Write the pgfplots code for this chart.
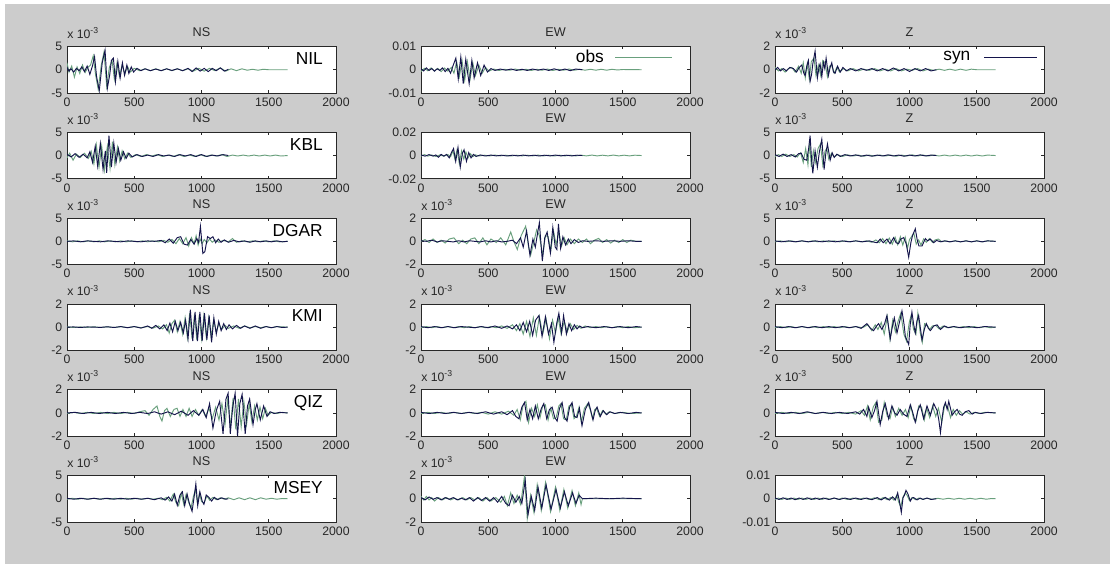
\documentclass[border=0pt]{standalone}
\usepackage{fontspec}
\setmainfont{Liberation Sans}
\usepackage{pgfplots}
\pgfplotsset{compat=1.18}
\definecolor{bg}{RGB}{204,204,204}
\definecolor{obsc}{RGB}{105,160,125}
\definecolor{sync}{RGB}{20,20,75}
\definecolor{axc}{RGB}{40,40,40}
\pgfplotsset{
 panel/.style={scale only axis, width=201.75pt, height=34.875pt, anchor=south west,
   xmin=0, xmax=2000, xtick={0,500,1000,1500,2000}, xticklabels={0,500,1000,1500,2000},
   axis background/.style={fill=white},
   axis line style={axc, line width=0.5pt},
   major tick style={axc, line width=0.5pt}, major tick length=2.2pt, tick align=inside,
   tick label style={font=\fontsize{9.2}{10}\selectfont, text=axc},
   title style={font=\fontsize{9.5}{10}\selectfont, text=axc, at={(0.5,1)}, anchor=base, yshift=1.2pt, inner sep=0pt},
   /pgf/number format/assume math mode=true},
 yA/.style={ymin=-5,ymax=5,ytick={-5,0,5},yticklabels={-5,0,5}},
 yB/.style={ymin=-2,ymax=2,ytick={-2,0,2},yticklabels={-2,0,2}},
 yC/.style={ymin=-10,ymax=10,ytick={-10,0,10},yticklabels={-0.01,0,0.01}},
 yD/.style={ymin=-20,ymax=20,ytick={-20,0,20},yticklabels={-0.02,0,0.02}},
 m3/.style={extra description/.append code={\node[anchor=base west, inner sep=0pt, font=\fontsize{9.2}{10}\selectfont, text=axc, yshift=6pt] at (0,1) {x 10\raisebox{3.6pt}{\fontsize{6.5}{7}\selectfont -3}};}},
 st/.style={extra description/.append code={\node[anchor=base east, inner sep=0pt, font=\fontsize{13}{13}\selectfont, text=black, xshift=-9.75pt, yshift=-13.5pt] at (1,1) {#1};}},
 obsl/.style={obsc, line width=0.7pt},
 synl/.style={sync, line width=0.7pt},
}
\begin{document}
\begin{tikzpicture}
\useasboundingbox (0,0) rectangle (832.5pt,423pt);
\fill[white] (0,0) rectangle (832.5pt,423pt);
\fill[bg] (3.75pt,0) rectangle (832.5pt,420pt);
% ===================== Row 1 =====================
\begin{axis}[panel, yA, m3, st=NIL, title={NS}, at={(50.25pt,353.25pt)}]
\addplot[obsl] coordinates {(0,1.5)(15,-0.5)(35,0.8)(55,-1.6)(75,0.6)(95,-0.8)(115,1.0)(135,-0.6)(155,0.5)(175,1.0)(195,3.0)(212,-1.0)(232,-4.2)(255,1.0)(275,3.8)(295,-3.5)(315,0.5)(335,2.0)(352,-2.0)(372,1.5)(390,-1.4)(410,1.0)(430,-0.9)(450,0.7)(470,-0.5)(500,0.3)(540,-0.2)(580,0.2)(620,-0.2)(660,0.2)(700,-0.2)(740,0.2)(780,-0.2)(820,0.2)(860,-0.2)(900,0.2)(940,-0.3)(980,0.3)(1020,-0.3)(1060,0.3)(1100,-0.2)(1140,0.4)(1180,-0.3)(1220,0.2)(1260,-0.2)(1300,0.2)(1340,-0.1)(1380,0.1)(1420,-0.1)(1460,0.1)(1500,0)(1640,0)};
\addplot[synl] coordinates {(0,0.5)(15,-0.3)(30,0.2)(50,-0.5)(70,0.3)(90,-0.2)(110,0.6)(130,-0.4)(150,0.8)(170,-1.0)(190,0.9)(205,2.8)(220,-1.5)(240,-4.5)(262,1.5)(283,4.2)(300,-4.0)(318,-1.0)(330,2.0)(345,2.5)(360,-2.6)(378,1.8)(395,-1.8)(412,1.5)(428,-1.2)(445,1.0)(460,-0.8)(478,0.6)(495,-0.5)(520,0.3)(550,-0.2)(580,0.2)(620,-0.2)(660,0.15)(700,-0.2)(740,0.2)(780,-0.15)(820,0.2)(860,-0.2)(900,0.3)(930,-0.4)(960,0.4)(990,-0.3)(1020,0.3)(1050,-0.4)(1080,0.3)(1110,-0.2)(1140,0.4)(1170,-0.3)(1200,0.1)};
\end{axis}
\begin{axis}[panel, yC, title={EW}, at={(315.75pt,353.25pt)},
  legend style={at={(0.565,0.774)}, anchor=west, draw=none, fill=none, font=\fontsize{13}{13}\selectfont, inner sep=0pt},
  legend plot pos=right, legend image code/.code={\path (0pt,0pt); \draw[#1] (6pt,0pt) -- (49pt,0pt);}]
\addplot[obsl] coordinates {(0,-0.8)(25,0.6)(50,-0.4)(75,0.8)(100,-0.5)(125,0.6)(150,-0.8)(175,0.7)(200,-0.6)(225,1.0)(245,-1.5)(265,3.5)(285,-3.0)(305,4.0)(325,-4.5)(345,3.5)(365,-4.0)(385,3.0)(405,-2.5)(430,2.0)(455,-1.5)(480,1.0)(505,-0.6)(540,0.3)(580,-0.3)(620,0.2)(660,-0.2)(700,0.3)(740,-0.2)(780,0.2)(820,-0.3)(860,0.2)(900,-0.2)(940,0.3)(980,-0.3)(1020,0.2)(1060,-0.2)(1100,0.3)(1140,-0.2)(1180,0.2)(1220,-0.2)(1260,0.2)(1300,-0.2)(1340,0.2)(1380,-0.2)(1420,0.2)(1460,-0.1)(1500,0.1)(1640,0)};
\addlegendentry{obs}
\addplot[synl, forget plot] coordinates {(0,0.3)(20,-0.5)(40,0.8)(60,-0.3)(80,0.5)(100,-0.6)(120,0.4)(140,-0.3)(160,0.8)(180,-0.8)(200,0.6)(220,-1.5)(240,2.0)(259,5.0)(277,-4.0)(296,5.5)(314,-6.0)(333,4.5)(358,-6.0)(378,4.0)(395,-3.5)(420,3.0)(444,-2.5)(469,2.0)(494,-1.0)(520,0.5)(550,-0.3)(590,0.3)(630,-0.2)(670,0.3)(710,-0.3)(750,0.2)(790,-0.3)(830,0.3)(870,-0.2)(910,0.3)(950,-0.3)(990,0.4)(1030,-0.3)(1070,0.3)(1110,-0.4)(1150,0.3)(1200,0)};
\end{axis}
\begin{axis}[panel, yB, m3, title={Z}, at={(581.25pt,353.25pt)},
  legend style={at={(0.615,0.774)}, anchor=west, draw=none, fill=none, font=\fontsize{13}{13}\selectfont, inner sep=0pt},
  legend plot pos=right, legend image code/.code={\path (0pt,0pt); \draw[#1] (8pt,0pt) -- (48pt,0pt);}]
\addplot[obsl, forget plot] coordinates {(0,0.2)(25,-0.1)(50,0.1)(75,-0.2)(100,0.1)(125,0.2)(150,-0.2)(175,0.3)(195,-0.3)(210,0.6)(225,-0.7)(240,0.5)(255,-0.8)(270,0.7)(290,1.0)(305,-0.5)(322,0.4)(340,-0.5)(355,0.8)(372,0.6)(390,-0.6)(405,0.3)(420,0.4)(440,-0.3)(460,0.2)(480,-0.2)(510,0.1)(540,-0.1)(580,0.1)(620,-0.1)(660,0.05)(700,-0.05)(740,0.1)(780,-0.1)(820,0.05)(860,-0.1)(900,0.1)(940,-0.1)(980,0.05)(1020,-0.05)(1060,0.1)(1100,-0.1)(1140,0.05)(1180,-0.05)(1220,0.05)(1260,-0.05)(1300,0.05)(1340,-0.05)(1380,0.05)(1420,-0.05)(1460,0.05)(1500,0)(1640,0)};
\addplot[synl] coordinates {(0,0.0)(20,0.2)(40,-0.1)(62,0.1)(85,-0.1)(110,0.2)(137,0.1)(160,-0.2)(180,0.2)(199,0.4)(214,-0.3)(224,-0.5)(236,0.3)(248,0.8)(261,-1.0)(272,-0.4)(281,0.5)(298,1.6)(315,-0.7)(327,0.2)(335,0.5)(348,-0.6)(360,0.6)(370,0.1)(380,1.0)(397,-0.5)(410,0.2)(422,0.6)(435,-0.2)(447,-0.3)(465,0.3)(485,-0.2)(505,0.2)(530,-0.1)(560,0.1)(600,-0.1)(640,0.1)(680,-0.05)(720,0.1)(760,-0.1)(800,0.1)(840,-0.1)(880,0.15)(920,-0.1)(960,0.1)(1000,-0.15)(1040,0.1)(1080,-0.1)(1120,0.1)(1160,-0.1)(1200,0)};
\addlegendentry{syn}
\end{axis}
% ===================== Row 2 =====================
\begin{axis}[panel, yA, m3, st=KBL, title={NS}, at={(50.25pt,288.9pt)}]
\addplot[obsl] coordinates {(0,-0.5)(20,0.5)(45,-1.0)(70,0.3)(100,-0.4)(130,0.5)(160,-0.6)(180,0.9)(200,-1.8)(218,2.3)(238,-2.5)(258,2.0)(278,-3.2)(300,2.0)(320,-2.8)(338,3.0)(356,-2.0)(375,1.8)(392,-1.2)(410,1.0)(430,-0.7)(450,0.5)(475,-0.4)(510,0.2)(550,-0.2)(590,0.2)(630,-0.1)(670,0.2)(710,-0.2)(750,0.1)(790,-0.2)(830,0.2)(870,-0.2)(910,0.1)(950,-0.2)(990,0.2)(1030,-0.2)(1070,0.1)(1110,-0.1)(1150,0.2)(1190,-0.2)(1230,0.1)(1270,-0.1)(1310,0.1)(1350,-0.1)(1390,0.1)(1430,-0.1)(1470,0.1)(1510,-0.1)(1550,0.1)(1590,-0.1)(1640,0)};
\addplot[synl] coordinates {(0,0.3)(30,-0.3)(60,0.4)(90,-0.4)(120,0.3)(150,-0.5)(170,0.8)(190,-1.5)(210,2.0)(228,-2.3)(248,2.6)(268,-3.0)(285,1.0)(295,-3.7)(312,4.3)(330,-2.5)(348,2.7)(365,-1.5)(382,1.5)(400,-1.0)(420,0.8)(440,-0.6)(460,0.5)(485,-0.3)(520,0.2)(560,-0.2)(600,0.1)(640,-0.2)(680,0.2)(720,-0.1)(760,0.1)(800,-0.2)(840,0.2)(880,-0.1)(920,0.2)(960,-0.2)(1000,0.2)(1040,-0.2)(1080,0.1)(1120,-0.1)(1160,0.2)(1200,0.0)};
\end{axis}
\begin{axis}[panel, yD, title={EW}, at={(315.75pt,288.9pt)}]
\addplot[obsl] coordinates {(0,-0.5)(25,0.8)(50,-0.5)(80,0.5)(110,-0.8)(140,0.5)(170,-0.5)(200,0.8)(220,-1.0)(238,4.0)(252,-3.0)(268,5.0)(285,-7.0)(302,4.0)(318,-3.0)(334,3.0)(350,-2.0)(368,1.5)(385,-1.0)(405,0.6)(430,-0.4)(470,0.3)(510,-0.3)(550,0.4)(590,-0.3)(630,0.3)(670,-0.4)(710,0.3)(750,-0.3)(790,0.3)(830,-0.3)(870,0.4)(910,-0.3)(950,0.3)(990,-0.4)(1030,0.3)(1070,-0.3)(1110,0.3)(1150,-0.3)(1190,0.3)(1230,-0.3)(1270,0.4)(1310,-0.3)(1350,0.3)(1390,-0.3)(1430,0.4)(1470,-0.3)(1510,0.3)(1550,-0.3)(1590,0.3)(1640,0)};
\addplot[synl] coordinates {(0,0.5)(30,-0.5)(60,0.8)(90,-0.5)(110,0.5)(130,-1.5)(150,1.0)(170,-0.5)(190,1.0)(210,-2.0)(228,3.0)(242,6.0)(258,-5.0)(275,7.0)(292,-10.0)(308,2.0)(320,5.0)(338,-5.0)(355,2.5)(372,-2.0)(390,1.0)(410,-0.8)(440,0.5)(480,-0.4)(520,0.4)(560,-0.3)(600,0.3)(640,-0.4)(680,0.3)(720,-0.3)(760,0.4)(800,-0.3)(840,0.3)(880,-0.4)(920,0.3)(960,-0.3)(1000,0.4)(1040,-0.3)(1080,0.3)(1120,-0.3)(1160,0.3)(1200,0.0)};
\end{axis}
\begin{axis}[panel, yA, m3, title={Z}, at={(581.25pt,288.9pt)}]
\addplot[obsl] coordinates {(0,-0.2)(25,0.2)(50,-0.2)(80,0.3)(110,-0.2)(140,0.2)(165,-0.3)(190,0.6)(210,-1.5)(228,1.5)(245,-2.0)(258,3.0)(270,-2.5)(285,1.0)(300,-1.5)(320,1.5)(338,2.5)(355,-2.0)(372,1.0)(385,1.5)(400,-0.8)(420,0.5)(440,-0.3)(465,0.2)(500,-0.2)(540,0.15)(580,-0.1)(620,0.1)(660,-0.15)(700,0.1)(740,-0.1)(780,0.1)(820,-0.1)(860,0.1)(900,-0.15)(940,0.1)(980,-0.1)(1020,0.15)(1060,-0.1)(1100,0.1)(1140,-0.1)(1180,0.1)(1220,-0.1)(1260,0.1)(1300,-0.1)(1340,0.1)(1380,-0.1)(1420,0.1)(1460,-0.1)(1500,0.1)(1540,-0.1)(1580,0.1)(1640,0)};
\addplot[synl] coordinates {(0,0.2)(30,-0.2)(60,0.3)(90,-0.2)(120,0.2)(150,-0.3)(175,0.4)(195,0.5)(215,-0.8)(236,-1.0)(250,1.5)(261,4.3)(272,-1.0)(281,-3.8)(298,1.0)(315,-2.5)(330,0.8)(348,3.5)(365,-3.0)(378,0.5)(390,2.5)(410,-1.0)(425,0.6)(440,-0.4)(460,0.3)(485,-0.2)(520,0.2)(560,-0.1)(600,0.15)(640,-0.15)(680,0.1)(720,-0.15)(760,0.1)(800,-0.1)(840,0.15)(880,-0.1)(920,0.1)(960,-0.15)(1000,0.1)(1040,-0.1)(1080,0.15)(1120,-0.1)(1160,0.1)(1200,0)};
\end{axis}
% ===================== Row 3 =====================
\begin{axis}[panel, yA, m3, st=DGAR, title={NS}, at={(50.25pt,224.55pt)}]
\addplot[obsl] coordinates {(0,0.1)(40,-0.1)(80,0.1)(120,-0.1)(160,0.1)(200,-0.1)(240,0.1)(280,-0.1)(320,0.1)(360,-0.1)(400,0.1)(440,-0.1)(480,0.1)(520,-0.1)(560,0.1)(600,-0.1)(640,0.1)(680,-0.1)(720,0.2)(750,-0.2)(780,0.4)(810,-0.5)(835,0.6)(860,-0.5)(885,0.8)(905,-1.0)(925,0.8)(945,-0.5)(960,1.2)(975,-0.8)(990,0.5)(1005,-0.5)(1020,0.4)(1040,-0.3)(1060,0.5)(1080,-0.2)(1100,0.3)(1130,-0.2)(1160,0.2)(1200,-0.1)(1230,0.6)(1260,-0.2)(1300,0.1)(1340,-0.1)(1380,0.1)(1420,-0.1)(1460,0.1)(1500,-0.1)(1540,0.1)(1580,-0.1)(1640,0)};
\addplot[synl] coordinates {(0,0.0)(50,0.1)(100,-0.1)(150,0.1)(200,0.0)(250,-0.1)(300,0.1)(350,0.0)(400,-0.1)(450,0.1)(500,0.0)(550,-0.1)(600,0.1)(650,0.0)(700,0.2)(730,-0.3)(760,0.5)(790,-0.4)(820,0.8)(845,1.0)(870,-0.6)(895,-0.8)(920,0.4)(945,-0.6)(965,0.6)(978,-0.2)(992,3.2)(1010,-2.6)(1025,-2.2)(1045,1.0)(1065,0.6)(1085,1.0)(1105,-0.3)(1125,0.5)(1145,-0.2)(1170,0.3)(1200,-0.2)(1240,0.2)(1280,-0.1)(1320,0.1)(1360,-0.2)(1400,0.1)(1440,-0.1)(1480,0.1)(1520,-0.1)(1560,0.1)(1600,-0.1)(1640,0.0)};
\end{axis}
\begin{axis}[panel, yB, m3, title={EW}, at={(315.75pt,224.55pt)}]
\addplot[obsl] coordinates {(0,0.0)(30,0.15)(60,-0.1)(90,0.2)(120,-0.1)(150,0.1)(180,-0.15)(210,0.2)(245,0.3)(280,-0.2)(310,0.1)(340,-0.2)(370,0.2)(400,0.3)(430,-0.2)(460,0.3)(490,-0.3)(520,0.2)(560,-0.1)(593,0.3)(630,-0.3)(667,0.8)(690,0.0)(716,-0.7)(745,0.5)(778,1.3)(800,-0.5)(815,-1.2)(840,0.0)(860,1.0)(880,0.5)(905,-1.2)(925,0.5)(945,0.4)(965,-0.8)(985,0.9)(1005,-0.3)(1025,0.8)(1045,-0.4)(1065,0.3)(1085,-0.3)(1110,0.2)(1140,-0.2)(1170,0.2)(1200,-0.1)(1230,0.2)(1260,-0.2)(1290,0.1)(1320,0.25)(1350,-0.1)(1380,0.15)(1410,-0.15)(1440,0.1)(1470,-0.1)(1500,0.15)(1530,-0.1)(1560,0.1)(1600,0.0)(1640,0)};
\addplot[synl] coordinates {(0,0.05)(40,0.0)(80,0.1)(120,-0.05)(160,0.05)(200,0.0)(240,-0.05)(280,0.05)(320,-0.05)(360,0.05)(400,0.0)(440,-0.05)(480,0.05)(520,-0.05)(560,0.05)(600,-0.05)(640,0.0)(680,0.1)(710,-0.2)(740,0.3)(760,-0.5)(785,0.9)(810,-1.2)(832,0.2)(850,-0.5)(868,0.8)(880,1.6)(902,-1.7)(920,0.3)(938,0.8)(962,-1.0)(980,1.2)(998,-0.5)(1010,-0.7)(1022,1.5)(1038,-0.6)(1055,0.4)(1075,-0.3)(1095,0.2)(1115,-0.2)(1140,0.15)(1170,-0.1)(1200,0.05)(1240,0.0)(1300,0.05)(1360,0.0)(1420,0.05)(1480,0.0)(1540,0.05)(1600,0.0)(1640,0)};
\end{axis}
\begin{axis}[panel, yA, m3, title={Z}, at={(581.25pt,224.55pt)}]
\addplot[obsl] coordinates {(0,-0.1)(40,0.1)(80,-0.1)(120,0.1)(160,-0.1)(200,0.1)(240,-0.1)(280,0.1)(320,-0.1)(360,0.1)(400,-0.1)(440,0.1)(480,-0.1)(520,0.1)(560,-0.1)(600,0.1)(640,-0.1)(680,0.1)(720,-0.2)(750,0.3)(775,-0.3)(800,0.6)(825,-0.5)(850,0.7)(872,-0.6)(893,0.9)(912,-0.7)(932,1.0)(950,-0.8)(968,0.9)(985,-1.5)(1000,0.4)(1015,1.0)(1032,1.8)(1050,-0.6)(1068,0.3)(1085,-0.8)(1105,0.5)(1125,-0.2)(1148,0.6)(1170,-0.2)(1190,0.3)(1215,0.5)(1240,-0.1)(1270,0.1)(1300,-0.1)(1340,0.1)(1380,-0.1)(1420,0.1)(1460,-0.1)(1500,0.1)(1540,-0.1)(1580,0.1)(1640,0)};
\addplot[synl] coordinates {(0,0.1)(50,-0.1)(100,0.1)(150,-0.1)(200,0.1)(250,-0.1)(300,0.1)(350,-0.1)(400,0.1)(450,-0.1)(500,0.1)(550,-0.1)(600,0.1)(650,-0.1)(700,0.1)(740,-0.2)(760,-0.3)(782,0.5)(805,-0.3)(832,0.5)(855,-0.5)(882,0.8)(900,-0.3)(919,-0.5)(935,0.5)(956,0.8)(975,-0.5)(994,-3.4)(1010,-0.3)(1022,1.2)(1043,2.7)(1058,0.2)(1070,-1.0)(1093,-1.0)(1118,0.6)(1135,0.1)(1155,0.5)(1180,-0.3)(1200,0.2)(1230,-0.1)(1260,0.1)(1300,-0.1)(1340,0.1)(1380,-0.1)(1420,0.1)(1460,-0.1)(1500,0.1)(1540,-0.1)(1580,0.1)(1640,0)};
\end{axis}
% ===================== Row 4 =====================
\begin{axis}[panel, yB, m3, st=KMI, title={NS}, at={(50.25pt,160.2pt)}]
\addplot[obsl] coordinates {(0,0.03)(50,-0.03)(100,0.02)(150,-0.02)(200,0.03)(250,-0.03)(300,0.03)(350,-0.03)(400,0.04)(450,-0.04)(500,0.05)(550,-0.05)(600,0.05)(640,-0.08)(680,0.1)(710,-0.15)(740,0.2)(760,-0.5)(780,0.3)(800,0.6)(820,-0.4)(840,0.5)(860,-0.6)(878,0.8)(895,-0.9)(912,1.2)(930,-1.0)(948,1.1)(965,-1.1)(983,1.0)(1000,-1.0)(1018,1.0)(1036,-0.9)(1054,0.8)(1072,-0.8)(1090,0.6)(1110,-0.4)(1130,0.3)(1150,-0.2)(1175,0.15)(1200,-0.1)(1240,0.1)(1280,-0.1)(1320,0.1)(1360,-0.05)(1400,0.05)(1440,-0.05)(1480,0.05)(1520,-0.05)(1560,0.05)(1640,0)};
\addplot[synl] coordinates {(0,0)(50,0.02)(100,-0.03)(150,0.02)(200,0)(250,-0.02)(300,0.03)(350,-0.03)(400,0.05)(450,-0.05)(500,0.05)(550,-0.08)(600,0.1)(630,-0.1)(660,0.15)(690,-0.15)(720,0.2)(745,-0.3)(765,0.35)(785,-0.4)(805,0.5)(825,-0.3)(845,0.4)(865,-0.5)(882,0.6)(900,-1.0)(917,1.5)(935,-1.2)(952,1.3)(970,-1.2)(988,1.3)(1005,-1.2)(1022,1.2)(1040,-1.1)(1057,1.0)(1075,-1.3)(1092,0.8)(1110,-0.6)(1128,0.5)(1146,-0.3)(1165,0.3)(1185,-0.2)(1205,0.2)(1230,-0.15)(1260,0.15)(1290,-0.1)(1320,0.1)(1360,-0.1)(1400,0.1)(1440,-0.1)(1480,0.05)(1520,-0.05)(1560,0.05)(1600,-0.03)(1640,0)};
\end{axis}
\begin{axis}[panel, yB, m3, title={EW}, at={(315.75pt,160.2pt)}]
\addplot[obsl] coordinates {(0,-0.05)(40,0.05)(80,-0.05)(120,0.05)(160,-0.05)(200,0.05)(240,-0.05)(280,0.05)(320,-0.05)(360,0.05)(400,-0.05)(440,0.05)(480,-0.05)(520,0.05)(560,-0.05)(600,0.1)(640,-0.1)(680,0.2)(710,-0.3)(735,0.3)(760,-0.6)(785,0.5)(810,-0.8)(835,0.8)(858,-0.7)(880,0.9)(905,-0.6)(930,0.7)(955,-1.0)(978,0.6)(1000,-0.5)(1020,0.8)(1042,-0.6)(1065,0.5)(1088,-0.4)(1110,0.3)(1135,-0.2)(1160,0.15)(1190,-0.1)(1220,0.1)(1260,-0.05)(1300,0.05)(1340,-0.05)(1380,0.05)(1420,-0.05)(1460,0.05)(1500,-0.05)(1540,0.05)(1580,-0.05)(1640,0)};
\addplot[synl] coordinates {(0,0.05)(50,-0.05)(100,0.05)(150,-0.05)(200,0.05)(250,-0.05)(300,0.05)(350,0.0)(400,-0.05)(450,0.05)(500,-0.05)(550,0.1)(600,-0.1)(640,0.1)(680,-0.15)(710,0.2)(735,-0.3)(760,0.4)(785,-0.4)(808,0.5)(830,-0.7)(852,0.6)(877,1.0)(900,-0.8)(925,0.9)(948,-0.6)(970,0.3)(988,-1.3)(1010,0.4)(1025,1.2)(1045,-0.5)(1060,1.0)(1081,-0.6)(1100,0.3)(1120,-0.3)(1140,0.2)(1160,-0.15)(1180,0.1)(1200,-0.05)(1240,0.05)(1300,-0.05)(1360,0.05)(1420,-0.05)(1480,0.05)(1540,-0.05)(1600,0.05)(1640,0)};
\end{axis}
\begin{axis}[panel, yB, m3, title={Z}, at={(581.25pt,160.2pt)}]
\addplot[obsl] coordinates {(0,-0.05)(40,0.05)(80,-0.05)(120,0.05)(160,-0.05)(200,0.05)(240,-0.05)(280,0.05)(320,-0.05)(360,0.05)(400,-0.05)(440,0.05)(480,-0.05)(520,0.05)(560,-0.05)(600,0.05)(650,-0.05)(690,0.2)(720,-0.3)(745,0.2)(765,-0.2)(790,0.4)(812,-0.6)(835,0.9)(855,-1.1)(875,0.6)(895,-0.4)(915,0.5)(935,1.2)(958,-0.6)(978,-1.2)(998,0.4)(1012,1.0)(1030,-0.2)(1048,-0.6)(1062,1.2)(1080,-0.5)(1095,-1.3)(1112,0.3)(1130,0.2)(1150,-0.2)(1170,0.1)(1195,0.15)(1220,-0.15)(1250,0.1)(1280,-0.05)(1320,0.05)(1360,-0.05)(1400,0.05)(1440,-0.05)(1480,0.05)(1520,-0.05)(1560,0.05)(1600,-0.05)(1640,0)};
\addplot[synl] coordinates {(0,0.05)(50,-0.05)(100,0.05)(150,-0.05)(200,0.05)(250,-0.05)(300,0.05)(350,-0.05)(400,0.05)(450,-0.05)(500,0.05)(550,-0.05)(600,0.05)(640,-0.1)(683,0.3)(710,-0.1)(733,-0.3)(755,0.1)(770,0.3)(795,-0.2)(815,0.3)(832,1.0)(857,-1.0)(875,0.2)(887,0.8)(907,-0.5)(925,0.4)(944,1.4)(960,0.2)(969,-0.8)(994,-1.5)(1005,0.2)(1018,1.3)(1030,0.3)(1043,-0.5)(1055,0.5)(1068,1.0)(1093,-1.1)(1110,-0.2)(1125,0.3)(1140,-0.1)(1155,-0.3)(1180,0.1)(1205,0.2)(1230,-0.2)(1260,0.1)(1290,-0.05)(1330,0.05)(1380,-0.05)(1440,0.05)(1500,-0.05)(1560,0.05)(1640,0)};
\end{axis}
% ===================== Row 5 =====================
\begin{axis}[panel, yB, m3, st=QIZ, title={NS}, at={(50.25pt,95.85pt)}]
\addplot[obsl] coordinates {(0,-0.05)(50,0.05)(100,-0.05)(150,0.05)(200,-0.05)(250,0.05)(300,-0.05)(350,0.05)(400,-0.05)(450,0.05)(500,-0.05)(540,0.1)(580,0.2)(610,-0.2)(640,0.3)(669,0.6)(690,-0.3)(706,-0.7)(725,0.2)(743,0.4)(768,-0.3)(795,0.3)(818,0.4)(840,-0.3)(862,0.3)(885,-0.3)(908,0.4)(930,-0.3)(955,0.3)(980,-0.2)(1005,0.3)(1030,-0.3)(1055,0.4)(1080,-0.5)(1105,0.5)(1130,-0.6)(1152,0.8)(1175,-1.0)(1195,1.2)(1215,-1.2)(1235,1.3)(1255,-1.4)(1275,1.2)(1295,-1.2)(1315,1.0)(1335,-1.0)(1355,0.8)(1375,-0.8)(1395,0.6)(1415,-0.6)(1435,0.5)(1455,-0.5)(1475,0.4)(1495,-0.2)(1520,0.05)(1560,-0.05)(1600,0.05)(1640,0)};
\addplot[synl] coordinates {(0,0)(60,0.05)(120,-0.05)(180,0.05)(240,-0.05)(300,0.05)(360,-0.05)(420,0.05)(480,-0.05)(540,0.05)(600,-0.05)(650,0.1)(700,-0.1)(750,0.1)(800,-0.15)(850,0.15)(900,-0.2)(940,0.2)(980,-0.2)(1010,0.3)(1035,-0.4)(1060,0.8)(1085,-1.3)(1110,0.2)(1135,1.0)(1160,-1.8)(1182,1.2)(1198,1.7)(1214,-1.8)(1232,0.5)(1250,1.7)(1268,-2.0)(1285,0.8)(1302,1.6)(1325,-1.8)(1342,0.6)(1358,1.2)(1383,-1.0)(1400,0.3)(1412,0.8)(1437,-0.6)(1462,0.6)(1487,-0.3)(1510,0.1)(1540,-0.05)(1580,0.05)(1640,0)};
\end{axis}
\begin{axis}[panel, yB, m3, title={EW}, at={(315.75pt,95.85pt)}]
\addplot[obsl] coordinates {(0,-0.05)(50,0.05)(100,-0.05)(150,0.05)(200,-0.05)(250,0.05)(300,-0.05)(350,0.05)(400,-0.05)(450,0.05)(500,-0.1)(550,0.1)(600,-0.1)(650,0.15)(690,-0.2)(715,0.3)(738,-0.6)(760,0.7)(780,1.0)(800,-0.8)(822,0.4)(845,-0.3)(865,0.7)(885,-0.4)(905,0.6)(925,0.7)(945,-0.6)(965,0.4)(985,-0.5)(1005,-0.4)(1025,0.6)(1040,0.8)(1060,-0.5)(1080,-0.6)(1100,0.6)(1118,0.7)(1138,-0.5)(1155,-0.3)(1175,0.5)(1192,-0.8)(1215,0.4)(1240,0.8)(1258,0.3)(1275,-0.5)(1292,0.3)(1305,0.4)(1328,-0.3)(1350,0.2)(1375,-0.1)(1400,0.1)(1440,-0.05)(1500,0.05)(1560,-0.05)(1640,0)};
\addplot[synl] coordinates {(0,0.05)(60,-0.05)(120,0.05)(180,-0.05)(240,0.05)(300,-0.05)(360,0.05)(420,-0.05)(480,0.1)(540,-0.1)(600,0.1)(640,-0.15)(680,0.2)(705,-0.3)(728,-0.5)(750,0.5)(770,0.9)(790,-0.6)(810,0.3)(830,-0.5)(850,0.6)(872,-0.5)(895,0.4)(913,0.8)(935,-0.5)(955,0.3)(975,0.5)(995,-0.4)(1012,-0.7)(1030,0.4)(1049,0.9)(1068,-0.4)(1086,-0.7)(1105,0.5)(1123,0.9)(1142,-0.3)(1160,-0.4)(1178,0.4)(1197,-1.1)(1222,0.3)(1247,0.9)(1262,0.2)(1279,-0.6)(1295,0.2)(1309,0.5)(1333,-0.3)(1355,0.2)(1380,-0.15)(1405,0.1)(1440,-0.05)(1480,0.05)(1540,-0.05)(1600,0.05)(1640,0)};
\end{axis}
\begin{axis}[panel, yB, m3, title={Z}, at={(581.25pt,95.85pt)}]
\addplot[obsl] coordinates {(0,-0.05)(50,0.05)(100,-0.05)(150,0.05)(200,-0.05)(250,0.05)(300,-0.05)(350,0.05)(400,-0.05)(450,0.05)(500,-0.05)(550,0.05)(600,-0.1)(640,0.2)(665,-0.2)(688,0.6)(708,-0.6)(730,0.5)(750,0.9)(770,-0.8)(795,-0.6)(812,0.9)(835,-0.3)(855,-0.5)(875,0.5)(895,-0.3)(920,0.4)(945,-0.2)(970,0.3)(990,-0.4)(1010,0.6)(1030,-0.5)(1048,-0.7)(1068,0.6)(1090,0.5)(1110,-0.6)(1128,0.4)(1150,-0.4)(1172,0.6)(1195,-0.3)(1215,0.4)(1240,-0.8)(1262,0.7)(1285,0.5)(1305,-0.4)(1325,0.3)(1348,-0.2)(1370,0.2)(1395,-0.1)(1420,0.1)(1450,-0.1)(1480,0.05)(1520,-0.05)(1560,0.05)(1640,0)};
\addplot[synl] coordinates {(0,0.05)(60,-0.05)(120,0.05)(180,-0.05)(240,0.1)(300,-0.05)(360,0.05)(420,-0.05)(480,0.05)(540,-0.05)(600,0.1)(630,-0.1)(658,0.3)(683,-0.3)(696,0.5)(720,-0.4)(740,0.2)(758,1.0)(782,-1.0)(800,0.1)(820,0.8)(845,-0.5)(869,0.6)(890,0.0)(907,-0.2)(931,0.3)(955,-0.1)(981,-0.3)(1006,0.7)(1025,0.0)(1043,-0.8)(1062,0.2)(1080,0.7)(1105,-0.5)(1130,0.6)(1155,-0.2)(1180,0.8)(1205,0.2)(1218,-0.6)(1230,-1.7)(1245,-0.2)(1254,0.5)(1267,0.9)(1280,0.3)(1292,1.0)(1317,-0.2)(1335,0.1)(1354,0.3)(1372,-0.1)(1391,-0.2)(1415,0.1)(1441,0.2)(1465,-0.1)(1490,0.05)(1530,-0.05)(1580,0.05)(1640,0)};
\end{axis}
% ===================== Row 6 =====================
\begin{axis}[panel, yA, m3, st=MSEY, title={NS}, at={(50.25pt,31.5pt)}]
\addplot[obsl] coordinates {(0,-0.1)(40,0.1)(80,-0.1)(120,0.1)(160,-0.1)(200,0.1)(240,-0.1)(280,0.1)(320,-0.1)(360,0.1)(400,-0.1)(440,0.1)(480,-0.1)(520,0.1)(560,-0.1)(600,0.1)(640,-0.1)(680,0.1)(710,-0.2)(740,0.3)(765,-0.5)(790,1.0)(810,-0.8)(830,-1.5)(850,1.2)(868,-1.2)(886,1.0)(905,-0.8)(922,-2.0)(940,0.5)(955,2.0)(970,-1.0)(985,1.2)(1000,-0.6)(1020,-0.9)(1040,0.6)(1060,-0.3)(1085,0.3)(1110,-0.2)(1140,0.2)(1170,-0.1)(1200,0.2)(1240,-0.2)(1280,0.2)(1320,-0.2)(1360,0.2)(1400,-0.2)(1440,0.2)(1480,-0.1)(1520,0.1)(1560,-0.1)(1600,0.05)(1640,0)};
\addplot[synl] coordinates {(0,0.1)(50,-0.1)(100,0.1)(150,-0.1)(200,0.1)(250,-0.1)(300,0.1)(350,-0.1)(400,0.1)(450,-0.1)(500,0.1)(550,-0.1)(600,0.1)(650,-0.2)(700,0.2)(730,-0.3)(755,0.4)(780,-0.5)(800,1.0)(820,-1.4)(840,0.8)(858,1.5)(875,-1.5)(893,1.0)(910,-1.0)(930,-2.7)(948,1.0)(958,3.2)(972,-1.5)(988,1.5)(1005,-0.5)(1018,-1.2)(1035,0.8)(1055,0.3)(1075,-0.5)(1095,0.3)(1120,-0.2)(1150,0.2)(1180,-0.1)(1200,0)};
\end{axis}
\begin{axis}[panel, yB, m3, title={EW}, at={(315.75pt,31.5pt)}]
\addplot[obsl] coordinates {(0,0.2)(20,-0.1)(40,0.2)(60,-0.1)(80,0.1)(100,-0.2)(130,0.1)(160,-0.1)(190,0.1)(220,-0.1)(250,0.05)(280,-0.1)(310,0.1)(340,-0.1)(370,0.1)(400,-0.1)(430,0.1)(460,-0.2)(490,0.1)(519,-0.2)(556,0.1)(593,-0.3)(620,0.2)(642,-0.6)(667,0.5)(691,-0.4)(715,0.3)(741,-0.5)(770,2.0)(790,-1.7)(815,0.3)(840,-1.2)(864,1.2)(894,-1.0)(926,1.4)(963,-1.1)(1000,1.0)(1032,-1.0)(1062,0.8)(1091,-0.8)(1123,0.7)(1148,-0.6)(1173,0.5)(1190,-0.5)(1200,0)(1640,0)};
\addplot[synl] coordinates {(0,0.1)(30,-0.1)(60,0.15)(90,-0.05)(120,0.1)(150,-0.1)(180,0.1)(210,-0.05)(240,0.1)(270,-0.1)(300,0.05)(330,-0.1)(360,0.1)(390,-0.2)(420,0.1)(450,-0.15)(480,0.1)(510,-0.2)(540,0.1)(570,-0.3)(600,0.2)(630,-0.4)(655,-0.6)(680,0.3)(705,-0.3)(730,0.2)(750,-0.4)(775,1.6)(795,-1.4)(820,0.2)(845,-1.0)(870,1.0)(898,-0.8)(930,1.2)(967,-0.9)(1004,0.8)(1036,-0.8)(1066,0.6)(1095,-0.6)(1127,0.5)(1152,-0.4)(1176,0.3)(1200,0)(1300,0.05)(1400,0)(1500,0.05)(1640,0)};
\end{axis}
\begin{axis}[panel, yC, title={Z}, at={(581.25pt,31.5pt)}]
\addplot[obsl] coordinates {(0,-0.3)(25,0.3)(50,-0.3)(80,0.3)(110,-0.3)(140,0.3)(170,-0.3)(200,0.3)(230,-0.3)(260,0.3)(290,-0.3)(320,0.3)(350,-0.3)(380,0.3)(410,-0.3)(440,0.3)(470,-0.3)(500,0.3)(540,-0.3)(580,0.3)(620,-0.3)(660,0.3)(700,-0.3)(740,0.4)(775,-0.4)(805,0.5)(835,-0.4)(862,0.6)(885,-0.6)(905,1.5)(920,-1.5)(935,-3.5)(950,0.5)(968,2.5)(982,1.5)(1000,-0.8)(1020,0.5)(1045,-0.4)(1070,0.3)(1095,-0.2)(1130,0.2)(1170,-0.2)(1210,0.2)(1250,-0.2)(1290,0.2)(1330,-0.2)(1370,0.2)(1410,-0.2)(1450,0.2)(1490,-0.2)(1530,0.2)(1570,-0.2)(1610,0.1)(1640,0)};
\addplot[synl] coordinates {(0,0.3)(30,-0.3)(60,0.4)(90,-0.3)(120,0.3)(150,-0.4)(180,0.3)(210,-0.3)(240,0.4)(270,-0.3)(300,0.3)(330,-0.3)(360,0.3)(400,-0.3)(440,0.3)(480,-0.3)(520,0.3)(560,-0.3)(600,0.3)(640,-0.3)(680,0.3)(720,-0.4)(760,0.5)(790,-0.5)(820,0.6)(850,-0.6)(875,0.8)(895,-0.5)(912,2.5)(925,-1.0)(939,-5.9)(952,0.5)(962,1.5)(974,3.6)(989,2.0)(1006,-1.0)(1020,0.4)(1031,0.5)(1056,-0.5)(1080,0.3)(1100,-0.3)(1130,0.3)(1160,-0.3)(1200,0.0)};
\end{axis}
\end{tikzpicture}
\end{document}
